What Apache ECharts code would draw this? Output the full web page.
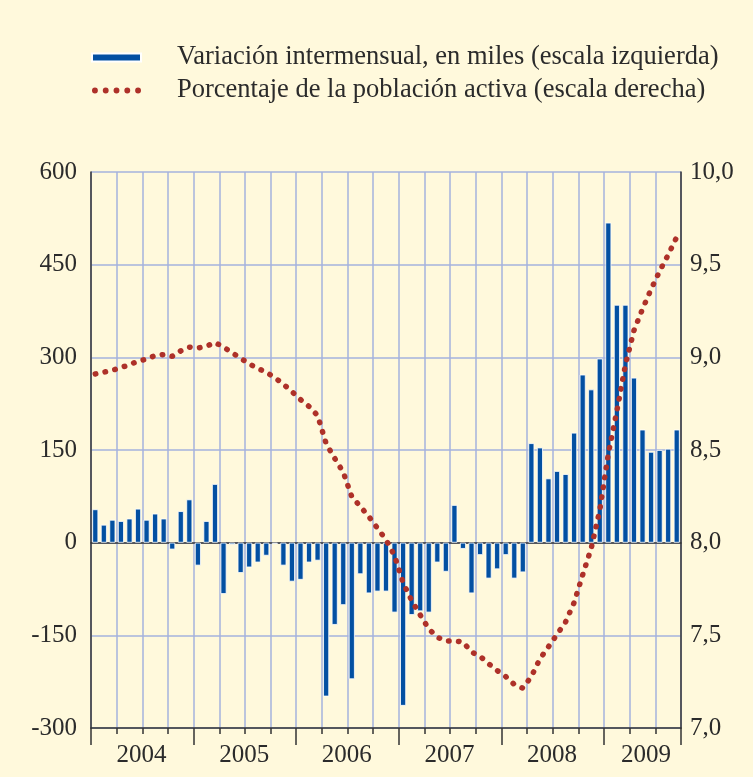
<!DOCTYPE html>
<html>
<head>
<meta charset="utf-8">
<script src="https://cdn.jsdelivr.net/npm/echarts@6/dist/echarts.min.js"></script>
<style>
  html, body { margin: 0; padding: 0; background: #FFF9DC; }
  #chart { width: 753px; height: 777px; }
</style>
</head>
<body>
<div id="chart"></div>
<script>
// Months covered: January 2004 to September 2009
const years = ['2004', '2005', '2006', '2007', '2008', '2009'];
const monthCodes = ['01', '02', '03', '04', '05', '06', '07', '08', '09', '10', '11', '12'];
const lastYearMonths = 9;

// Month-on-month change, thousands (left scale)
const monthlyChange = [
  54, 29, 37, 35, 39, 55, 37, 47, 39, -11, 51, 70,
  -37, 35, 95, -83, -3, -49, -40, -32, -21, -2, -37, -63,
  -60, -32, -29, -249, -133, -101, -221, -51, -82, -79, -79, -113,
  -264, -117, -111, -113, -32, -47, 61, -10, -82, -20, -58, -43,
  -20, -58, -48, 161, 154, 104, 116, 111, 178, 272, 248, 298,
  518, 385, 385, 267, 183, 147, 150, 152, 183
];

// Share of the labour force, % (right scale)
const laborShare = [
  8.91, 8.92, 8.93, 8.945, 8.96, 8.98, 8.99, 9.01, 9.015, 9.005, 9.035, 9.055,
  9.05, 9.06, 9.08, 9.055, 9.025, 8.995, 8.965, 8.94, 8.92, 8.89, 8.855, 8.815,
  8.772, 8.735, 8.686, 8.535, 8.455, 8.38, 8.248, 8.195, 8.14, 8.078, 8.016, 7.93,
  7.784, 7.688, 7.61, 7.535, 7.49, 7.47, 7.47, 7.464, 7.41, 7.387, 7.347, 7.31,
  7.278, 7.235, 7.215, 7.278, 7.373, 7.438, 7.505, 7.572, 7.677, 7.826, 7.97, 8.175,
  8.48, 8.71, 8.96, 9.145, 9.261, 9.367, 9.465, 9.553, 9.649
];

const leftTicks = { min: -300, max: 600, step: 150 };
const rightTicks = { min: 7, max: 10, step: 0.5 };

const seriesNames = [
  'Variación intermensual, en miles (escala izquierda)',
  'Porcentaje de la población activa (escala derecha)'
];

// Category list "YYYY-MM"
const months = [];
years.forEach((y, yi) => {
  const n = yi === years.length - 1 ? lastYearMonths : 12;
  for (let m = 0; m < n; m++) months.push(y + '-' + monthCodes[m]);
});

// Index of the month under which each year label sits
const yearLabelIdx = new Set(years.map((y, yi) => yi === years.length - 1 ? yi * 12 + 5 : yi * 12 + 6));

const FONT = "'Liberation Serif', 'DejaVu Serif', serif";
const TXT = '#2b2b2b';
const GRID = '#A4B2DE';
const AXIS = '#333333';
const BLUE = '#0350A2';
const RED = '#AE3129';

const chart = echarts.init(document.getElementById('chart'), null, { renderer: 'canvas' });

chart.setOption({
  backgroundColor: '#FFF9DC',
  animation: false,
  legend: {
    orient: 'vertical',
    left: 91,
    top: 44,
    padding: 0,
    itemGap: 6,
    itemWidth: 49,
    itemHeight: 8,
    selectedMode: false,
    textStyle: { fontFamily: FONT, fontSize: 26.5, color: TXT, padding: [0, 0, 0, 31] },
    data: [
      { name: seriesNames[0], icon: 'rect', itemStyle: { color: BLUE } },
      {
        name: seriesNames[1],
        icon: 'path://M0,3a3,3 0 1,0 6,0a3,3 0 1,0 -6,0M11,3a3,3 0 1,0 6,0a3,3 0 1,0 -6,0M22,3a3,3 0 1,0 6,0a3,3 0 1,0 -6,0M33,3a3,3 0 1,0 6,0a3,3 0 1,0 -6,0M44,3a3,3 0 1,0 6,0a3,3 0 1,0 -6,0',
        itemStyle: { color: RED }
      }
    ]
  },
  grid: { left: 91, right: 72, top: 172, bottom: 49, containLabel: false },
  xAxis: [
    {
      // months, quarter ticks, year labels
      type: 'category',
      data: months,
      position: 'bottom',
      boundaryGap: true,
      axisLine: { show: true, onZero: false, lineStyle: { color: AXIS, width: 1.5 } },
      axisTick: { show: true, length: 6, interval: (i) => i % 3 === 0, lineStyle: { color: AXIS, width: 1.5 } },
      splitLine: { show: true, interval: (i) => i % 3 === 0, lineStyle: { color: GRID, width: 1.5 } },
      axisLabel: {
        show: true,
        interval: (i) => yearLabelIdx.has(i),
        formatter: (v) => '{y|' + v.slice(0, 4) + '}',
        margin: 15,
        rich: { y: { fontFamily: FONT, fontSize: 25, color: TXT, padding: [0, 10, 0, 0] } }
      }
    },
    {
      // longer ticks at year boundaries
      type: 'category',
      data: months,
      position: 'bottom',
      boundaryGap: true,
      axisLine: { show: false, onZero: false },
      axisTick: { show: true, length: 17, interval: (i) => i % 12 === 0, lineStyle: { color: AXIS, width: 1.5 } },
      splitLine: { show: false },
      axisLabel: { show: false }
    },
    {
      // zero line behind the bars
      type: 'category',
      data: months,
      position: 'bottom',
      axisLine: { show: true, onZero: true, onZeroAxisIndex: 0, lineStyle: { color: AXIS, width: 1.5 } },
      axisTick: { show: false },
      splitLine: { show: false },
      axisLabel: { show: false }
    }
  ],
  yAxis: [
    {
      type: 'value',
      position: 'left',
      min: leftTicks.min,
      max: leftTicks.max,
      interval: leftTicks.step,
      axisLine: { show: true, lineStyle: { color: AXIS, width: 1.5 } },
      axisTick: { show: false },
      splitLine: { show: true, lineStyle: { color: GRID, width: 1.5 } },
      axisLabel: { fontFamily: FONT, fontSize: 25, color: TXT, margin: 14 }
    },
    {
      type: 'value',
      position: 'right',
      min: rightTicks.min,
      max: rightTicks.max,
      interval: rightTicks.step,
      axisLine: { show: true, lineStyle: { color: AXIS, width: 1.5 } },
      axisTick: { show: false },
      splitLine: { show: false },
      axisLabel: {
        fontFamily: FONT, fontSize: 25, color: TXT, margin: 9,
        formatter: (v) => v.toFixed(1).replace('.', ',')
      }
    }
  ],
  series: [
    {
      name: seriesNames[0],
      type: 'bar',
      xAxisIndex: 0,
      yAxisIndex: 0,
      data: monthlyChange,
      barWidth: 6,
      itemStyle: { color: BLUE, borderColor: '#ffffff', borderWidth: 0.8 },
      z: 3
    },
    {
      name: seriesNames[1],
      type: 'line',
      xAxisIndex: 0,
      yAxisIndex: 1,
      data: laborShare,
      symbol: 'none',
      smooth: false,
      lineStyle: { color: RED, width: 5.5, type: [0.5, 9.5], cap: 'round' },
      z: 4
    }
  ]
});
</script>
</body>
</html>
